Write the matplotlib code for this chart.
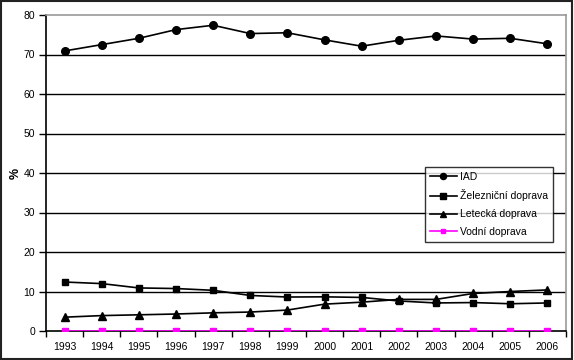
import matplotlib
matplotlib.use("Agg")
import matplotlib.pyplot as plt
from matplotlib.patches import Rectangle

years = [1993, 1994, 1995, 1996, 1997, 1998, 1999, 2000, 2001, 2002, 2003, 2004, 2005, 2006]
iad = [70.9, 72.5, 74.1, 76.3, 77.4, 75.3, 75.5, 73.7, 72.1, 73.6, 74.7, 73.9, 74.1, 72.7]
zeleznicni = [12.4, 12.0, 10.9, 10.75, 10.3, 9.0, 8.6, 8.65, 8.5, 7.6, 7.1, 7.2, 6.9, 7.1]
letecka = [3.5, 3.9, 4.1, 4.3, 4.6, 4.8, 5.3, 6.8, 7.3, 8.0, 8.0, 9.5, 10.0, 10.4]
vodni = [0.1, 0.1, 0.1, 0.1, 0.1, 0.1, 0.1, 0.1, 0.1, 0.1, 0.1, 0.1, 0.1, 0.1]
labels = ["IAD", "Železniční doprava", "Letecká doprava", "Vodní doprava"]
yticks = [0, 10, 20, 30, 40, 50, 60, 70, 80]

plt.rcParams['font.family'] = ['Liberation Sans', 'DejaVu Sans']

fig = plt.figure(figsize=(5.74, 3.6), dpi=100)
fig.patch.set_facecolor('white')
# outer border
fig.patches.append(Rectangle((0.002, 0.003), 0.995, 0.994, transform=fig.transFigure,
                             fill=False, edgecolor='#222222', linewidth=1.5))

ax = fig.add_axes([46/574, 1-331/360, 520/574, 316/360])
x = list(range(len(years)))

for v in yticks[1:-1]:
    ax.axhline(v, color='black', linewidth=1.0, zorder=1)

ax.plot(x, iad, color='black', marker='o', markersize=5.5, linewidth=1.2, label=labels[0], zorder=3)
ax.plot(x, zeleznicni, color='black', marker='s', markersize=5, linewidth=1.2, label=labels[1], zorder=3)
ax.plot(x, letecka, color='black', marker='^', markersize=5.5, linewidth=1.2, label=labels[2], zorder=3)
ax.plot(x, vodni, color='#ff00ff', marker='s', markersize=4, linewidth=1.2, label=labels[3], zorder=3)

ax.set_xlim(-0.5, len(years) - 0.5)
ax.set_ylim(0, 80)
ax.set_yticks(yticks)
ax.set_yticklabels([str(v) for v in yticks], fontsize=7.5)
ax.set_xticks(x)
ax.set_xticklabels([str(y) for y in years], fontsize=7.5)
ax.set_xticks([i + 0.5 for i in range(-1, len(years))], minor=True)
ax.tick_params(axis='x', which='major', length=0, pad=8)
ax.tick_params(axis='x', which='minor', length=4, width=1, direction='out')
ax.tick_params(axis='y', length=5, width=1, direction='out', pad=3)

ax.spines['left'].set_color('black')
ax.spines['left'].set_linewidth(1.2)
ax.spines['bottom'].set_color('black')
ax.spines['bottom'].set_linewidth(1.2)
ax.spines['top'].set_color('#999999')
ax.spines['top'].set_linewidth(1.2)
ax.spines['right'].set_color('#999999')
ax.spines['right'].set_linewidth(1.2)

ax.set_ylabel('%', fontsize=9, labelpad=1, fontweight='bold')

leg = ax.legend(loc='upper left', bbox_to_anchor=((425-46)/520, (331-167)/316),
                fontsize=7.5, frameon=True, fancybox=False, edgecolor='black',
                borderpad=0.45, labelspacing=0.75, handlelength=2.6, handletextpad=0.3,
                borderaxespad=0, markerscale=0.8)
leg.get_frame().set_linewidth(1.0)
leg.set_zorder(5)

fig.savefig('out.png', dpi=100, facecolor='white')
